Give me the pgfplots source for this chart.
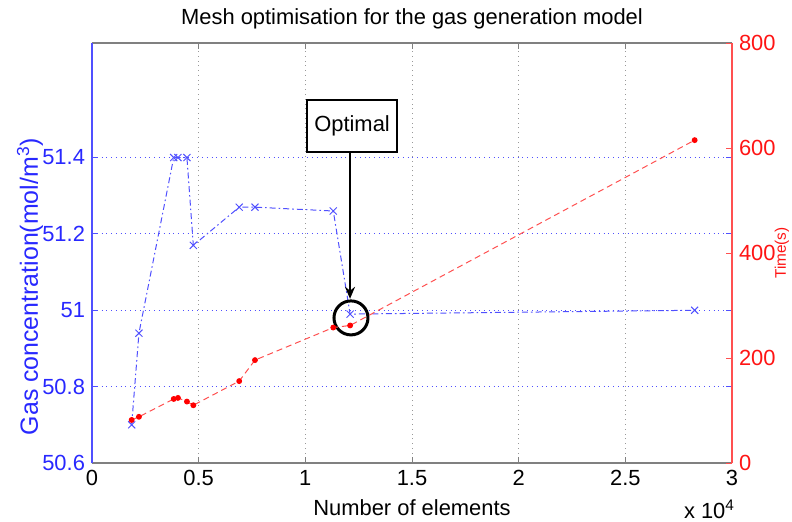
\documentclass[border=0pt]{standalone}
\usepackage{pgfplots}
\pgfplotsset{compat=1.18}
\usepackage{fontspec}
\setmainfont{Liberation Sans}
\usetikzlibrary{arrows.meta}

\definecolor{lblue}{RGB}{80,80,255}
\definecolor{tblue}{RGB}{40,40,255}
\definecolor{lred}{RGB}{255,80,80}
\definecolor{tred}{RGB}{255,20,20}

% gas concentration (mol/m^3) against number of elements
\pgfplotstableread{
n      conc
1860   50.70
2200   50.94
3830   51.40
4030   51.40
4450   51.40
4750   51.17
6900   51.27
7640   51.27
11310  51.26
12100  50.99
28250  51.00
}\conctable

% run time (s) against number of elements
\pgfplotstableread{
n      time
1860   82
2200   88
3830   122
4030   124
4450   117
4750   110
6900   156
7640   196
11310  258
12100  262
28250  615
}\timetable

\begin{document}
\begin{tikzpicture}
\useasboundingbox (-46bp,-29.5bp) rectangle (350bp,231.5bp);
\begin{axis}[
    scale only axis,
    width=320bp, height=210bp,
    xmin=0, xmax=30000,
    ymin=50.6, ymax=51.7,
    xtick={0,5000,10000,15000,20000,25000,30000},
    xticklabels={0,0.5,1,1.5,2,2.5,3},
    scaled x ticks=false,
    ytick={50.6,50.8,51,51.2,51.4},
    yticklabels={50.6,50.8,51,51.2,51.4},
    ytick pos=both, xtick pos=both,
    tick align=inside,
    major tick length=3bp,
    separate axis lines,
    x axis line style={gray, line width=0.6bp},
    y axis line style={lblue, line width=0.6bp},
    xtick style={gray, line width=0.5bp},
    ytick style={lblue, line width=0.5bp},
    xmajorgrids, ymajorgrids,
    x grid style={gray!80, dotted, line width=0.5bp},
    y grid style={lblue, dotted, line width=0.5bp},
    tick label style={font=\fontsize{11}{13}\selectfont},
    yticklabel style={text=tblue},
    /pgf/number format/assume math mode=true,
    title={Mesh optimisation for the gas generation model},
    title style={font=\fontsize{11}{13}\selectfont, yshift=-2.5bp},
    xlabel={Number of elements},
    xlabel style={font=\fontsize{11}{13}\selectfont},
    ylabel={Gas concentration(mol/m\textsuperscript{3})},
    ylabel style={font=\fontsize{12.5}{14}\selectfont, text=tblue,
        at={(rel axis cs:-0.097,0.42)}, anchor=center},
    clip=false,
]
\addplot[color=lblue, line width=0.5bp, dash pattern=on 3bp off 1.5bp on 0.8bp off 1.5bp,
    mark=x, mark size=2.5bp, mark options={solid}] table[x=n, y=conc] {\conctable};

% annotation
\node[draw=black, line width=1bp, fill=white, minimum width=45bp, minimum height=26bp,
    font=\fontsize{11}{13}\selectfont] at (axis cs:12190,51.483) {Optimal};
\draw[line width=1bp, -{Stealth[length=6bp,width=5bp]}] (axis cs:12095,51.415) -- (axis cs:12095,51.03);
\draw[line width=1.5bp] (axis cs:12140,50.98) circle[radius=8.5bp];

\node[anchor=east, font=\fontsize{11}{13}\selectfont] at ([xshift=5bp,yshift=-23bp]rel axis cs:1,0) {x 10\textsuperscript{4}};
\end{axis}

\begin{axis}[
    scale only axis,
    width=320bp, height=210bp,
    xmin=0, xmax=30000,
    ymin=0, ymax=800,
    axis x line=none,
    axis y line*=right,
    ytick={0,200,400,600,800},
    tick align=inside,
    major tick length=3bp,
    y axis line style={lred, line width=0.6bp, -},
    ytick style={lred, line width=0.5bp},
    tick label style={font=\fontsize{11}{13}\selectfont},
    yticklabel style={text=tred},
    /pgf/number format/assume math mode=true,
    ylabel={Time(s)},
    ylabel style={font=\fontsize{7.7}{9}\selectfont, text=tred,
        at={(rel axis cs:1.078,0.5)}, anchor=center},
]
\addplot[color=lred, line width=0.5bp, dash pattern=on 3bp off 2bp,
    mark=*, mark size=1.2bp, mark options={solid, fill=red, draw=red}] table[x=n, y=time] {\timetable};
\end{axis}
\end{tikzpicture}
\end{document}
